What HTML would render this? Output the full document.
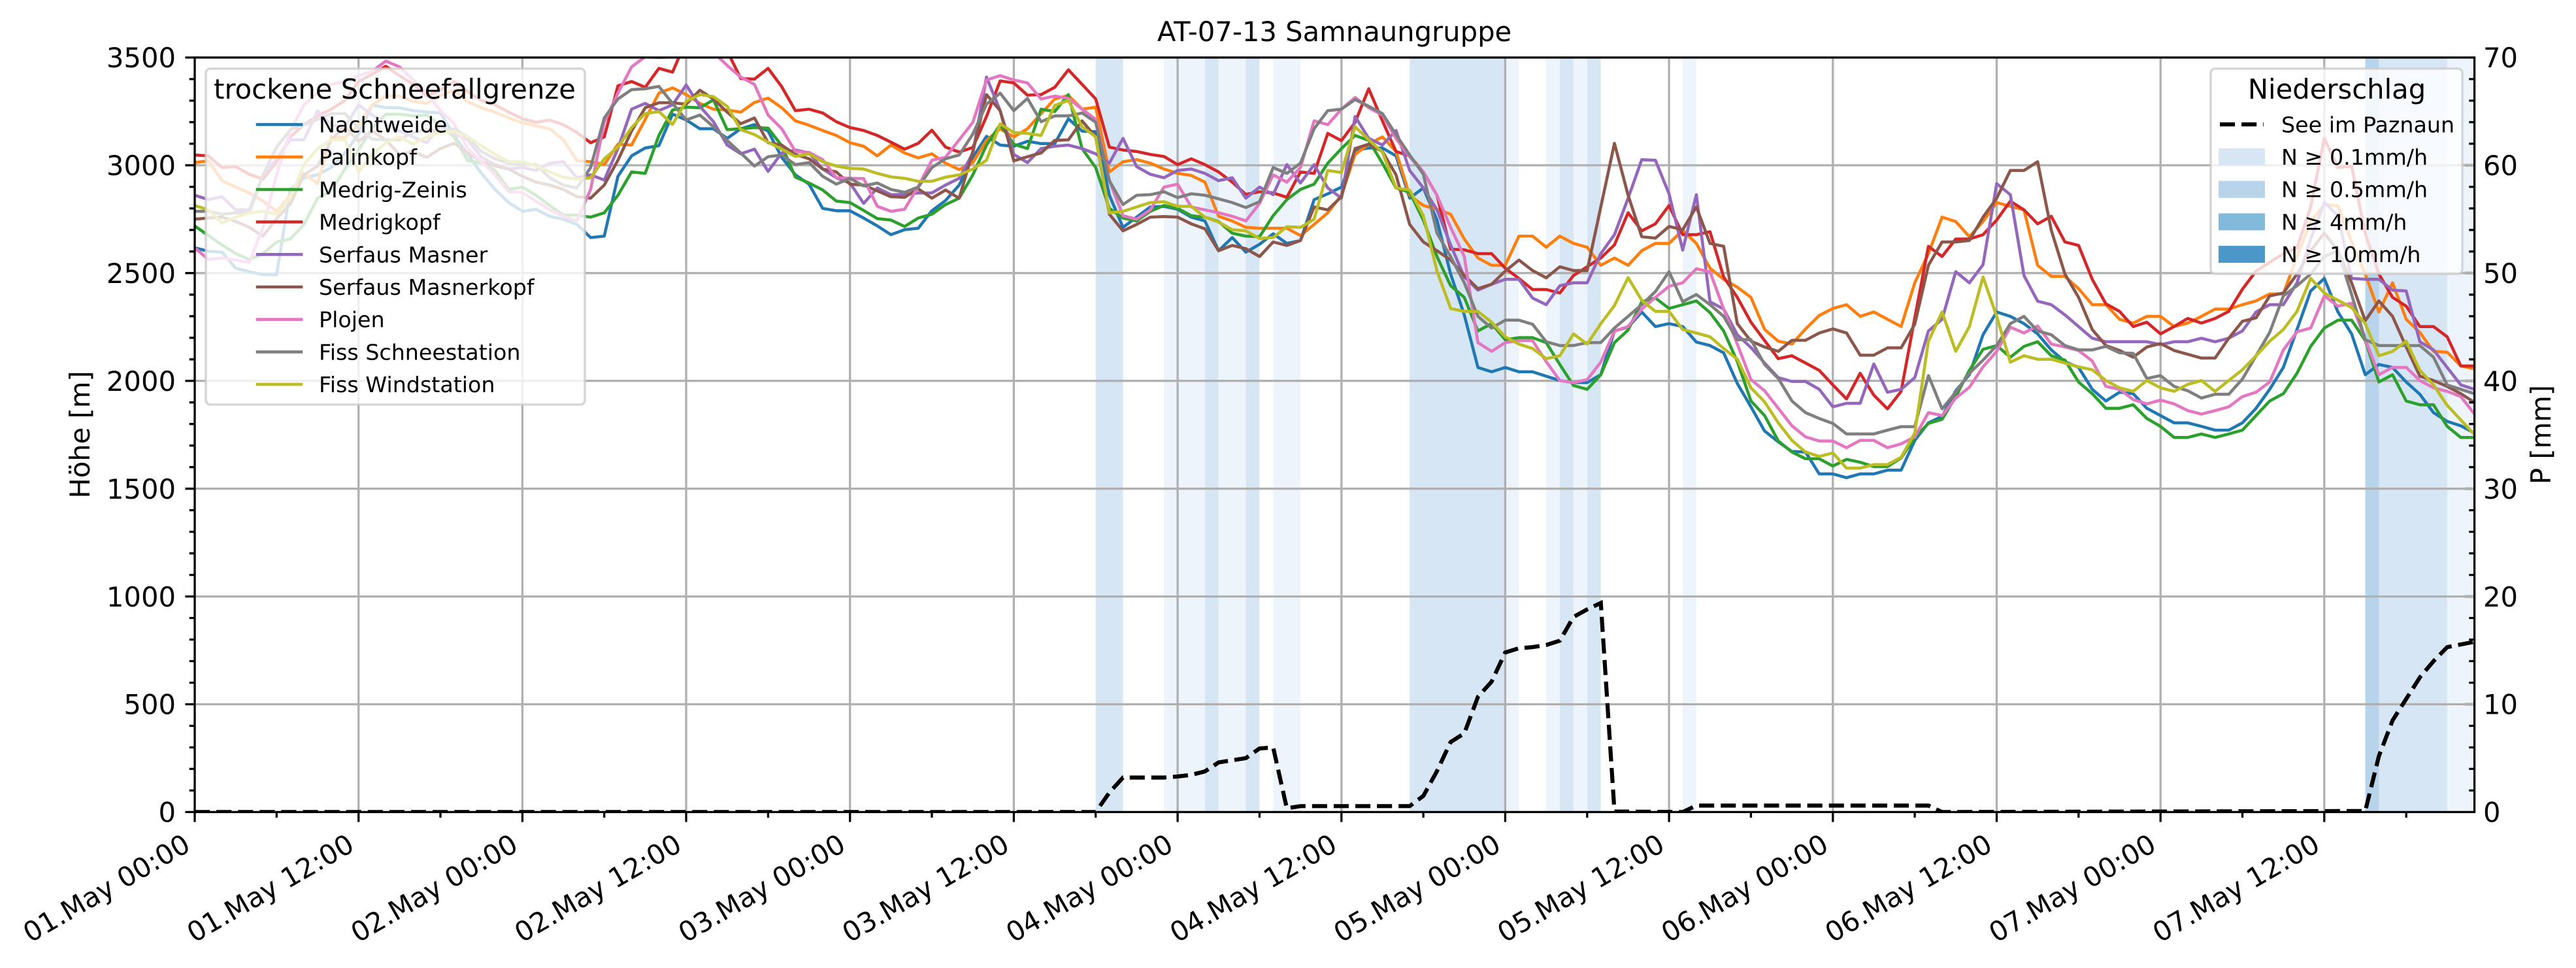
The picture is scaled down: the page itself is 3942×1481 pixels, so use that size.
<!DOCTYPE html>
<html><head><meta charset="utf-8"><title>AT-07-13 Samnaungruppe</title>
<style>
html,body{margin:0;padding:0;background:#fff;}
svg{display:block;}
text{font-family:"DejaVu Sans","Liberation Sans",sans-serif;fill:#000;}
</style></head><body>
<svg width="3942" height="1481" viewBox="0 0 3942 1481" xmlns="http://www.w3.org/2000/svg">
<rect width="3942" height="1481" fill="#fff"/>
<defs><clipPath id="ax"><rect x="298" y="88" width="3488.6" height="1154.4"/></clipPath></defs>

<g clip-path="url(#ax)">
<!-- precipitation spans -->
<g fill="#d6e6f4">
<rect x="1676.7" y="88" width="41.8" height="1155"/>
<rect x="1843.9" y="88" width="20.9" height="1155"/>
<rect x="1906.5" y="88" width="20.9" height="1155"/>
<rect x="2157.2" y="88" width="146.2" height="1155"/>
<rect x="2387.0" y="88" width="20.9" height="1155"/>
<rect x="2428.8" y="88" width="20.9" height="1155"/>
<rect x="3640.4" y="88" width="104.5" height="1155"/>
</g>
<g fill="#edf4fb">
<rect x="1781.2" y="88" width="62.7" height="1155"/>
<rect x="1864.8" y="88" width="41.7" height="1155"/>
<rect x="1948.3" y="88" width="41.8" height="1155"/>
<rect x="2303.4" y="88" width="20.9" height="1155"/>
<rect x="2366.1" y="88" width="20.9" height="1155"/>
<rect x="2407.9" y="88" width="20.9" height="1155"/>
<rect x="2575.0" y="88" width="20.9" height="1155"/>
<rect x="3744.9" y="88" width="41.7" height="1155"/>
</g>
<rect x="3619.5" y="88" width="20.9" height="1155" fill="#b7d4ea"/>

<!-- grid -->
<g stroke="#b0b0b0" stroke-width="3.3">
<line x1="298" x2="3787" y1="1077.5" y2="1077.5"/>
<line x1="298" x2="3787" y1="912.6" y2="912.6"/>
<line x1="298" x2="3787" y1="747.7" y2="747.7"/>
<line x1="298" x2="3787" y1="582.7" y2="582.7"/>
<line x1="298" x2="3787" y1="417.8" y2="417.8"/>
<line x1="298" x2="3787" y1="252.9" y2="252.9"/>
<line y1="88" y2="1243" x1="548.7" x2="548.7"/>
<line y1="88" y2="1243" x1="799.4" x2="799.4"/>
<line y1="88" y2="1243" x1="1050.0" x2="1050.0"/>
<line y1="88" y2="1243" x1="1300.7" x2="1300.7"/>
<line y1="88" y2="1243" x1="1551.4" x2="1551.4"/>
<line y1="88" y2="1243" x1="1802.1" x2="1802.1"/>
<line y1="88" y2="1243" x1="2052.8" x2="2052.8"/>
<line y1="88" y2="1243" x1="2303.4" x2="2303.4"/>
<line y1="88" y2="1243" x1="2554.1" x2="2554.1"/>
<line y1="88" y2="1243" x1="2804.8" x2="2804.8"/>
<line y1="88" y2="1243" x1="3055.5" x2="3055.5"/>
<line y1="88" y2="1243" x1="3306.2" x2="3306.2"/>
<line y1="88" y2="1243" x1="3556.8" x2="3556.8"/>
</g>

<!-- series -->
<g transform="matrix(20.89 0 0 0.446429 298 80)" fill="none" stroke-linejoin="round" stroke-linecap="square">
<polyline vector-effect="non-scaling-stroke" stroke-width="4.6" stroke="#1f77b4" points="0,670 1,682 2,685 3,740 4,752 5,762 6,762 7,470 8,430 9,420 10,395 11,345 12,280 13,180 14,190 15,190 16,200 17,205 18,208 19,285 20,350 21,415 22,470 23,515 24,545 25,538 26,562 27,572 28,590 29,635 30,630 31,425 32,355 33,328 34,320 35,212 36,232 37,262 38,262 39,295 40,262 41,248 42,270 43,360 44,420 45,452 46,535 47,543 48,543 49,568 50,595 51,625 52,608 53,603 54,543 55,508 56,455 57,360 58,288 59,318 60,322 61,305 62,313 63,313 64,228 65,270 66,272 67,490 68,600 69,565 70,530 71,528 72,538 73,565 74,578 75,680 76,635 77,685 78,658 79,622 80,655 81,645 82,505 83,485 84,462 85,335 86,328 87,328 88,355 89,500 90,465 91,575 92,760 93,900 94,1080 95,1095 96,1080 97,1095 98,1095 99,1110 100,1125 101,1132 102,1132 103,1105 104,955 105,942 106,890 107,940 108,930 109,940 110,993 111,1005 112,1030 113,1135 114,1215 115,1298 116,1335 117,1368 118,1370 119,1445 120,1445 121,1458 122,1445 123,1445 124,1432 125,1432 126,1330 127,1270 128,1248 129,1160 130,1105 131,968 132,890 133,905 134,930 135,965 136,1020 137,1060 138,1080 139,1155 140,1195 141,1165 142,1170 143,1220 144,1245 145,1270 146,1270 147,1282 148,1295 149,1295 150,1270 151,1220 152,1155 153,1080 154,950 155,818 156,775 157,890 158,965 159,1105 160,1070 161,1080 162,1130 163,1172 164,1235 165,1265 166,1280 167,1305"/>
<polyline vector-effect="non-scaling-stroke" stroke-width="4.6" stroke="#ff7f0e" points="0,378 1,372 2,440 3,462 4,482 5,510 6,545 7,490 8,415 9,450 10,290 11,292 12,250 13,180 14,150 15,150 16,168 17,175 18,148 19,130 20,170 21,190 22,205 23,225 24,242 25,252 26,262 27,300 28,372 29,375 30,385 31,315 32,318 33,230 34,140 35,122 36,145 37,175 38,195 39,198 40,205 41,172 42,157 43,190 44,235 45,250 46,268 47,285 48,310 49,322 50,355 51,318 52,345 53,362 54,348 55,380 56,402 57,378 58,302 59,262 60,290 61,262 62,210 63,160 64,148 65,195 66,188 67,410 68,375 69,368 70,380 71,400 72,415 73,422 74,445 75,562 76,578 77,600 78,603 79,603 80,603 81,628 82,590 83,550 84,490 85,350 86,315 87,290 88,340 89,490 90,525 91,538 92,555 93,640 94,705 95,730 96,730 97,630 98,630 99,668 100,630 101,655 102,668 103,730 104,705 105,730 106,680 107,655 108,655 109,610 110,655 111,740 112,778 113,805 114,840 115,950 116,990 117,1000 118,948 119,902 120,878 121,865 122,905 123,890 124,915 125,940 126,790 127,690 128,565 129,580 130,632 131,580 132,515 133,528 134,540 135,730 136,768 137,768 138,810 139,865 140,865 141,915 142,928 143,905 144,905 145,940 146,928 147,905 148,880 149,880 150,865 151,852 152,828 153,828 154,700 155,580 156,522 157,526 158,650 159,760 160,890 161,790 162,915 163,960 164,1025 165,1028 166,1075 167,1085"/>
<polyline vector-effect="non-scaling-stroke" stroke-width="4.6" stroke="#2ca02c" points="0,595 1,628 2,660 3,690 4,710 5,690 6,650 7,640 8,590 9,500 10,475 11,400 12,335 13,260 14,212 15,212 16,218 17,215 18,250 19,290 20,372 21,380 22,405 23,470 24,462 25,490 26,525 27,558 28,558 29,565 30,550 31,490 32,410 33,415 34,285 35,198 36,188 37,190 38,163 39,265 40,262 41,258 42,260 43,320 44,428 45,448 46,472 47,510 48,515 49,542 50,570 51,575 52,597 53,568 54,555 55,522 56,500 57,420 58,318 59,248 60,315 61,330 62,195 63,203 64,145 65,330 66,395 67,535 68,568 69,578 70,545 71,525 72,535 73,560 74,565 75,580 76,620 77,630 78,632 79,560 80,505 81,470 82,452 83,380 84,330 85,285 86,302 87,380 88,465 89,480 90,575 91,700 92,800 93,840 94,955 95,930 96,985 97,978 98,978 99,995 100,1070 101,1142 102,1155 103,1105 104,995 105,952 106,855 107,842 108,878 109,865 110,852 111,892 112,955 113,1060 114,1195 115,1245 116,1332 117,1370 118,1393 119,1393 120,1418 121,1395 122,1405 123,1420 124,1420 125,1390 126,1320 127,1272 128,1258 129,1180 130,1090 131,1018 132,1005 133,1045 134,1008 135,992 136,1040 137,1055 138,1130 139,1170 140,1220 141,1220 142,1208 143,1255 144,1282 145,1320 146,1320 147,1308 148,1320 149,1308 150,1295 151,1245 152,1195 153,1170 154,1100 155,1008 156,945 157,918 158,918 159,988 160,1130 161,1105 162,1195 163,1208 164,1208 165,1282 166,1320 167,1320"/>
<polyline vector-effect="non-scaling-stroke" stroke-width="4.6" stroke="#d62728" points="0,352 1,355 2,395 3,392 4,418 5,435 6,375 7,290 8,248 9,218 10,195 11,165 12,100 13,75 14,48 15,80 16,110 17,150 18,130 19,100 20,135 21,165 22,180 23,205 24,228 25,240 26,232 27,248 28,275 29,310 30,290 31,115 32,100 33,120 34,55 35,68 36,-40 37,-60 38,-40 39,-5 40,90 41,92 42,55 43,118 44,200 45,195 46,208 47,238 48,258 49,268 50,285 51,308 52,332 53,312 54,267 55,325 56,342 57,326 58,220 59,98 60,105 61,147 62,145 63,120 64,60 65,110 66,160 67,325 68,335 69,340 70,350 71,357 72,385 73,365 74,385 75,410 76,445 77,487 78,478 79,482 80,497 81,410 82,415 83,278 84,303 85,240 86,125 87,235 88,340 89,355 90,410 91,490 92,675 93,677 94,690 95,690 96,740 97,775 98,813 99,813 100,825 101,765 102,735 103,705 104,660 105,550 106,612 107,588 108,525 109,625 110,625 111,615 112,770 113,840 114,925 115,988 116,1050 117,1040 118,1065 119,1090 120,1140 121,1188 122,1100 123,1175 124,1222 125,1162 126,910 127,665 128,700 129,640 130,640 131,625 132,575 133,510 134,540 135,588 136,562 137,650 138,662 139,778 140,862 141,888 142,940 143,925 144,965 145,940 146,912 147,928 148,912 149,888 150,812 151,750 152,720 153,690 154,670 155,530 156,295 157,395 158,390 159,620 160,760 161,840 162,870 163,940 164,940 165,975 166,1075 167,1075"/>
<polyline vector-effect="non-scaling-stroke" stroke-width="4.6" stroke="#9467bd" points="0,490 1,505 2,495 3,540 4,540 5,420 6,365 7,300 8,300 9,200 10,250 11,255 12,180 13,215 14,245 15,270 16,290 17,310 18,250 19,280 20,300 21,360 22,385 23,400 24,395 25,405 26,380 27,375 28,430 29,420 30,438 31,330 32,195 33,175 34,200 35,180 36,112 37,185 38,238 39,318 40,348 41,332 42,408 43,345 44,335 45,345 46,400 47,430 48,448 49,518 50,465 51,488 52,487 53,482 54,482 55,455 56,432 57,345 58,85 59,200 60,350 61,378 62,330 63,322 64,318 65,330 66,348 67,380 68,295 69,392 70,418 71,430 72,405 73,400 74,415 75,440 76,430 77,500 78,462 79,488 80,385 81,448 82,385 83,465 84,500 85,220 86,295 87,318 88,268 89,405 90,465 91,540 92,660 93,770 94,815 95,795 96,778 97,778 98,842 99,865 100,800 101,790 102,790 103,690 104,625 105,500 106,368 107,370 108,485 109,678 110,488 111,855 112,880 113,968 114,1012 115,1065 116,1115 117,1128 118,1128 119,1155 120,1215 121,1203 122,1203 123,1068 124,1165 125,1155 126,1115 127,955 128,915 129,752 130,790 131,728 132,450 133,488 134,765 135,853 136,865 137,900 138,940 139,980 140,992 141,992 142,992 143,992 144,1002 145,992 146,992 147,980 148,992 149,980 150,955 151,890 152,865 153,865 154,790 155,640 156,515 157,560 158,775 159,778 160,778 161,815 162,818 163,992 164,1020 165,1080 166,1140 167,1155"/>
<polyline vector-effect="non-scaling-stroke" stroke-width="4.6" stroke="#8c564b" points="0,572 1,568 2,565 3,580 4,600 5,630 6,570 7,520 8,420 9,390 10,300 11,255 12,305 13,270 14,300 15,350 16,340 17,360 18,330 19,312 20,345 21,375 22,390 23,400 24,425 25,445 26,455 27,470 28,495 29,500 30,455 31,370 32,270 33,190 34,173 35,173 36,178 37,130 38,160 39,205 40,245 41,225 42,310 43,318 44,350 45,365 46,400 47,410 48,452 49,455 50,475 51,495 52,497 53,468 54,500 55,472 56,500 57,340 58,145 59,200 60,372 61,358 62,345 63,302 64,300 65,235 66,290 67,555 68,612 69,590 70,565 71,563 72,565 73,588 74,605 75,680 76,662 77,673 78,700 79,650 80,662 81,645 82,530 83,540 84,495 85,330 86,315 87,340 88,420 89,590 90,650 91,680 92,712 93,765 94,810 95,795 96,750 97,712 98,748 99,773 100,735 101,748 102,748 103,530 104,312 105,490 106,632 107,637 108,597 109,608 110,530 111,655 112,665 113,930 114,990 115,1010 116,1025 117,987 118,987 119,962 120,948 121,962 122,1038 123,1038 124,1013 125,1013 126,932 127,730 128,650 129,650 130,645 131,565 132,500 133,405 134,405 135,375 136,610 137,760 138,840 139,950 140,1005 141,1022 142,1045 143,1010 144,998 145,1022 146,1035 147,1048 148,1048 149,980 150,922 151,910 152,835 153,825 154,760 155,680 156,620 157,680 158,790 159,920 160,852 161,905 162,1010 163,1110 164,1125 165,1145 166,1170 167,1200"/>
<polyline vector-effect="non-scaling-stroke" stroke-width="4.6" stroke="#e377c2" points="0,670 1,710 2,705 3,712 4,720 5,600 6,420 7,270 8,180 9,140 10,110 11,100 12,80 13,65 14,30 15,50 16,95 17,140 18,200 19,245 20,330 21,375 22,420 23,478 24,480 25,510 26,540 27,562 28,578 29,470 30,240 31,140 32,50 33,15 34,18 35,15 36,-30 37,-40 38,0 39,45 40,85 41,110 42,215 43,262 44,340 45,343 46,368 47,430 48,432 49,433 50,528 51,545 52,538 53,460 54,370 55,360 56,300 57,240 58,95 59,80 60,95 61,105 62,160 63,150 64,158 65,195 66,230 67,440 68,560 69,572 70,540 71,462 72,452 73,530 74,540 75,550 76,562 77,578 78,518 79,420 80,445 81,395 82,235 83,248 84,195 85,155 86,190 87,215 88,295 89,358 90,410 91,490 92,600 93,700 94,995 95,1025 96,995 97,988 98,988 99,1060 100,1125 101,1132 102,1122 103,1062 104,955 105,940 106,880 107,840 108,802 109,790 110,742 111,752 112,880 113,1000 114,1122 115,1160 116,1220 117,1280 118,1318 119,1332 120,1332 121,1355 122,1330 123,1330 124,1355 125,1342 126,1318 127,1235 128,1245 129,1185 130,1148 131,1078 132,1025 133,942 134,962 135,938 136,1000 137,1010 138,1022 139,1058 140,1145 141,1155 142,1190 143,1205 144,1192 145,1205 146,1228 147,1240 148,1228 149,1215 150,1180 151,1165 152,1130 153,1020 154,958 155,945 156,835 157,870 158,860 159,985 160,1105 161,1080 162,1080 163,1125 164,1150 165,1162 166,1180 167,1240"/>
<polyline vector-effect="non-scaling-stroke" stroke-width="4.6" stroke="#7f7f7f" points="0,545 1,545 2,555 3,550 4,550 5,420 6,325 7,265 8,250 9,230 10,210 11,210 12,260 13,298 14,300 15,300 16,275 17,265 18,270 19,262 20,290 21,340 22,365 23,380 24,385 25,385 26,430 27,455 28,465 29,395 30,225 31,160 32,128 33,125 34,117 35,175 36,232 37,215 38,255 39,302 40,345 41,390 42,358 43,352 44,385 45,378 46,425 47,452 48,432 49,458 50,448 51,470 52,480 53,462 54,395 55,365 56,352 57,280 58,178 59,140 60,200 61,158 62,238 63,218 64,218 65,208 66,240 67,440 68,522 69,490 70,488 71,478 72,498 73,485 74,490 75,502 76,515 77,532 78,512 79,395 80,415 81,380 82,262 83,200 84,195 85,162 86,185 87,210 88,282 89,352 90,418 91,620 92,700 93,790 94,905 95,945 96,918 97,918 98,932 99,992 100,1005 101,1005 102,995 103,995 104,945 105,905 106,865 107,820 108,752 109,855 110,830 111,865 112,905 113,985 114,985 115,1070 116,1118 117,1195 118,1235 119,1255 120,1272 121,1308 122,1308 123,1308 124,1295 125,1283 126,1283 127,1108 128,1222 129,1165 130,1100 131,1055 132,1005 133,930 134,905 135,955 136,968 137,1005 138,1020 139,1020 140,1008 141,1030 142,1032 143,1118 144,1108 145,1145 146,1160 147,1185 148,1172 149,1172 150,1120 151,1040 152,960 153,835 154,800 155,760 156,700 157,680 158,830 159,985 160,1005 161,1005 162,1005 163,1005 164,1045 165,1140 166,1155 167,1170"/>
<polyline vector-effect="non-scaling-stroke" stroke-width="4.6" stroke="#bcbd22" points="0,525 1,540 2,585 3,565 4,550 5,545 6,555 7,500 8,385 9,330 10,300 11,300 12,410 13,350 14,310 15,290 16,315 17,290 18,275 19,272 20,290 21,320 22,350 23,375 24,375 25,390 26,410 27,428 28,435 29,430 30,365 31,325 32,258 33,210 34,203 35,247 36,168 37,145 38,152 39,185 40,265 41,282 42,308 43,332 44,357 45,348 46,375 47,390 48,398 49,400 50,415 51,427 52,432 53,442 54,442 55,428 56,420 57,400 58,370 59,245 60,275 61,278 62,285 63,182 64,165 65,255 66,290 67,550 68,545 69,530 70,515 71,512 72,528 73,528 74,565 75,582 76,608 77,612 78,638 79,635 80,598 81,600 82,572 83,405 84,412 85,255 86,300 87,342 88,465 89,472 90,560 91,750 92,878 93,888 94,888 95,925 96,975 97,1000 98,1015 99,1050 100,1040 101,965 102,1000 103,930 104,868 105,772 106,850 107,888 108,888 109,950 110,962 111,975 112,1015 113,1052 114,1150 115,1198 116,1270 117,1330 118,1370 119,1385 120,1373 121,1425 122,1425 123,1413 124,1413 125,1388 126,1305 127,990 128,890 129,1025 130,940 131,770 132,905 133,1062 134,1040 135,1052 136,1052 137,1065 138,1078 139,1088 140,1125 141,1150 142,1162 143,1125 144,1150 145,1162 146,1138 147,1125 148,1162 149,1125 150,1088 151,1040 152,990 153,950 154,888 155,775 156,825 157,850 158,875 159,930 160,1040 161,1025 162,990 163,1090 164,1140 165,1210 166,1260 167,1310"/>
</g>
</g>

<!-- left legend -->
<rect x="315" y="105" width="580" height="514" rx="6.7" ry="6.7" fill="#fff" fill-opacity="0.8" stroke="#cccccc" stroke-opacity="0.8" stroke-width="3.5"/>
<text x="604" y="151" font-size="41.7" text-anchor="middle">trockene Schneefallgrenze</text>
<g stroke-width="4.6" stroke-linecap="square">
<line x1="394" x2="461" y1="190.5" y2="190.5" stroke="#1f77b4"/>
<line x1="394" x2="461" y1="240.2" y2="240.2" stroke="#ff7f0e"/>
<line x1="394" x2="461" y1="289.9" y2="289.9" stroke="#2ca02c"/>
<line x1="394" x2="461" y1="339.6" y2="339.6" stroke="#d62728"/>
<line x1="394" x2="461" y1="389.3" y2="389.3" stroke="#9467bd"/>
<line x1="394" x2="461" y1="439.0" y2="439.0" stroke="#8c564b"/>
<line x1="394" x2="461" y1="488.7" y2="488.7" stroke="#e377c2"/>
<line x1="394" x2="461" y1="538.4" y2="538.4" stroke="#7f7f7f"/>
<line x1="394" x2="461" y1="588.1" y2="588.1" stroke="#bcbd22"/>
</g>
<g font-size="33.3">
<text x="488" y="202.5">Nachtweide</text>
<text x="488" y="252.2">Palinkopf</text>
<text x="488" y="301.9">Medrig-Zeinis</text>
<text x="488" y="351.6">Medrigkopf</text>
<text x="488" y="401.3">Serfaus Masner</text>
<text x="488" y="451.0">Serfaus Masnerkopf</text>
<text x="488" y="500.7">Plojen</text>
<text x="488" y="550.4">Fiss Schneestation</text>
<text x="488" y="600.1">Fiss Windstation</text>
</g>

<!-- dashed precipitation line -->
<g clip-path="url(#ax)">
<polyline fill="none" stroke="#000" stroke-width="6.2" stroke-dasharray="23.1 10" points="298,1242.4 1676.7,1242.4 1697.6,1212.7 1718.5,1189.6 1781.2,1189.6 1802.1,1188.0 1823.0,1185.5 1843.9,1180.2 1864.8,1166.5 1885.6,1163.2 1906.5,1159.9 1927.4,1145.1 1948.3,1143.5 1969.2,1236.6 1990.1,1233.3 2157.2,1233.3 2178.1,1217.7 2199.0,1179.7 2219.9,1135.2 2240.8,1122.0 2261.7,1066.0 2282.6,1042.9 2303.4,998.3 2324.3,991.8 2345.2,990.1 2366.1,986.8 2387.0,980.2 2407.9,943.9 2428.8,932.4 2449.7,922.5 2470.6,1241.6 2575.0,1242.4 2595.9,1232.5 2951.0,1232.5 2971.9,1242.4 3619.5,1240.8 3640.4,1156.7 3661.3,1102.2 3682.2,1069.3 3703.1,1036.3 3724.0,1011.5 3744.9,990.1 3765.7,986.0 3786.6,981.9"/>
</g>

<!-- right legend -->
<rect x="3383" y="105" width="385" height="314" rx="6.7" ry="6.7" fill="#fff" fill-opacity="0.8" stroke="#cccccc" stroke-opacity="0.8" stroke-width="3.5"/>
<text x="3576" y="151" font-size="41.7" text-anchor="middle">Niederschlag</text>
<line x1="3397" x2="3464" y1="190.3" y2="190.3" stroke="#000" stroke-width="6.2" stroke-dasharray="23.1 10"/>
<rect x="3395" y="227" width="71" height="26" fill="#d6e6f4"/>
<rect x="3395" y="276.7" width="71" height="26" fill="#b7d4ea"/>
<rect x="3395" y="326.4" width="71" height="26" fill="#82badb"/>
<rect x="3395" y="376.1" width="71" height="26" fill="#4a98c9"/>
<g font-size="33.3">
<text x="3491" y="202.3">See im Paznaun</text>
<text x="3491" y="252">N ≥ 0.1mm/h</text>
<text x="3491" y="301.7">N ≥ 0.5mm/h</text>
<text x="3491" y="351.4">N ≥ 4mm/h</text>
<text x="3491" y="401.1">N ≥ 10mm/h</text>
</g>

<!-- spines -->
<rect x="298" y="88" width="3488.6" height="1154.4" fill="none" stroke="#000" stroke-width="3.3"/>

<!-- left ticks -->
<path stroke="#000" stroke-width="3.3" fill="none" d="M283.4 1242.4H298M283.4 1077.5H298M283.4 912.6H298M283.4 747.7H298M283.4 582.7H298M283.4 417.8H298M283.4 252.9H298M283.4 88H298
M289.7 1209.4H298M289.7 1176.4H298M289.7 1143.5H298M289.7 1110.5H298M289.7 1044.5H298M289.7 1011.5H298M289.7 978.5H298M289.7 945.5H298M289.7 879.6H298M289.7 846.6H298M289.7 813.6H298M289.7 780.6H298M289.7 714.7H298M289.7 681.7H298M289.7 648.7H298M289.7 615.7H298M289.7 549.8H298M289.7 516.8H298M289.7 483.8H298M289.7 450.8H298M289.7 384.8H298M289.7 351.8H298M289.7 318.9H298M289.7 285.9H298M289.7 219.9H298M289.7 186.9H298M289.7 154H298M289.7 121H298"/>
<!-- right ticks (inward) -->
<path stroke="#000" stroke-width="3.3" fill="none" d="M3778.3 1209.4H3786.6M3778.3 1176.4H3786.6M3778.3 1143.5H3786.6M3778.3 1110.5H3786.6M3778.3 1044.5H3786.6M3778.3 1011.5H3786.6M3778.3 978.5H3786.6M3778.3 945.5H3786.6M3778.3 879.6H3786.6M3778.3 846.6H3786.6M3778.3 813.6H3786.6M3778.3 780.6H3786.6M3778.3 714.7H3786.6M3778.3 681.7H3786.6M3778.3 648.7H3786.6M3778.3 615.7H3786.6M3778.3 549.8H3786.6M3778.3 516.8H3786.6M3778.3 483.8H3786.6M3778.3 450.8H3786.6M3778.3 384.8H3786.6M3778.3 351.8H3786.6M3778.3 318.9H3786.6M3778.3 285.9H3786.6M3778.3 219.9H3786.6M3778.3 186.9H3786.6M3778.3 154H3786.6M3778.3 121H3786.6"/>
<path stroke="#b0b0b0" stroke-width="4.5" fill="none" d="M3772 1077.5H3785M3772 912.6H3785M3772 747.7H3785M3772 582.7H3785M3772 417.8H3785M3772 252.9H3785"/>
<!-- bottom ticks -->
<path stroke="#000" stroke-width="3.3" fill="none" d="M298 1242.4V1257.6M548.7 1242.4V1257.6M799.4 1242.4V1257.6M1050 1242.4V1257.6M1300.7 1242.4V1257.6M1551.4 1242.4V1257.6M1802.1 1242.4V1257.6M2052.8 1242.4V1257.6M2303.4 1242.4V1257.6M2554.1 1242.4V1257.6M2804.8 1242.4V1257.6M3055.5 1242.4V1257.6M3306.2 1242.4V1257.6M3556.8 1242.4V1257.6
M423.3 1242.4V1251M674 1242.4V1251M924.7 1242.4V1251M1175.4 1242.4V1251M1426 1242.4V1251M1676.7 1242.4V1251M1927.4 1242.4V1251M2178.1 1242.4V1251M2428.8 1242.4V1251M2679.4 1242.4V1251M2930.1 1242.4V1251M3180.8 1242.4V1251M3431.5 1242.4V1251M3682.2 1242.4V1251"/>

<!-- left tick labels -->
<g font-size="41.7" text-anchor="end">
<text x="269" y="1257.6">0</text>
<text x="269" y="1092.7">500</text>
<text x="269" y="927.8">1000</text>
<text x="269" y="762.9">1500</text>
<text x="269" y="597.9">2000</text>
<text x="269" y="433">2500</text>
<text x="269" y="268.1">3000</text>
<text x="269" y="103.2">3500</text>
</g>
<!-- right tick labels -->
<g font-size="41.7">
<text x="3800" y="1257.6">0</text>
<text x="3800" y="1092.7">10</text>
<text x="3800" y="927.8">20</text>
<text x="3800" y="762.9">30</text>
<text x="3800" y="597.9">40</text>
<text x="3800" y="433">50</text>
<text x="3800" y="268.1">60</text>
<text x="3800" y="103.2">70</text>
</g>
<!-- x tick labels -->
<g font-size="41.7" text-anchor="end">
<text transform="translate(294,1300) rotate(-30)">01.May 00:00</text>
<text transform="translate(544.7,1300) rotate(-30)">01.May 12:00</text>
<text transform="translate(795.4,1300) rotate(-30)">02.May 00:00</text>
<text transform="translate(1046,1300) rotate(-30)">02.May 12:00</text>
<text transform="translate(1296.7,1300) rotate(-30)">03.May 00:00</text>
<text transform="translate(1547.4,1300) rotate(-30)">03.May 12:00</text>
<text transform="translate(1798.1,1300) rotate(-30)">04.May 00:00</text>
<text transform="translate(2048.8,1300) rotate(-30)">04.May 12:00</text>
<text transform="translate(2299.4,1300) rotate(-30)">05.May 00:00</text>
<text transform="translate(2550.1,1300) rotate(-30)">05.May 12:00</text>
<text transform="translate(2800.8,1300) rotate(-30)">06.May 00:00</text>
<text transform="translate(3051.5,1300) rotate(-30)">06.May 12:00</text>
<text transform="translate(3302.2,1300) rotate(-30)">07.May 00:00</text>
<text transform="translate(3552.8,1300) rotate(-30)">07.May 12:00</text>
</g>

<!-- axis labels and title -->
<text font-size="41.7" text-anchor="middle" transform="translate(137,665) rotate(-90)">Höhe [m]</text>
<text font-size="41.7" text-anchor="middle" transform="translate(3903,665) rotate(-90)">P [mm]</text>
<text x="2042" y="63" font-size="41.7" text-anchor="middle">AT-07-13 Samnaungruppe</text>
</svg>
</body></html>
